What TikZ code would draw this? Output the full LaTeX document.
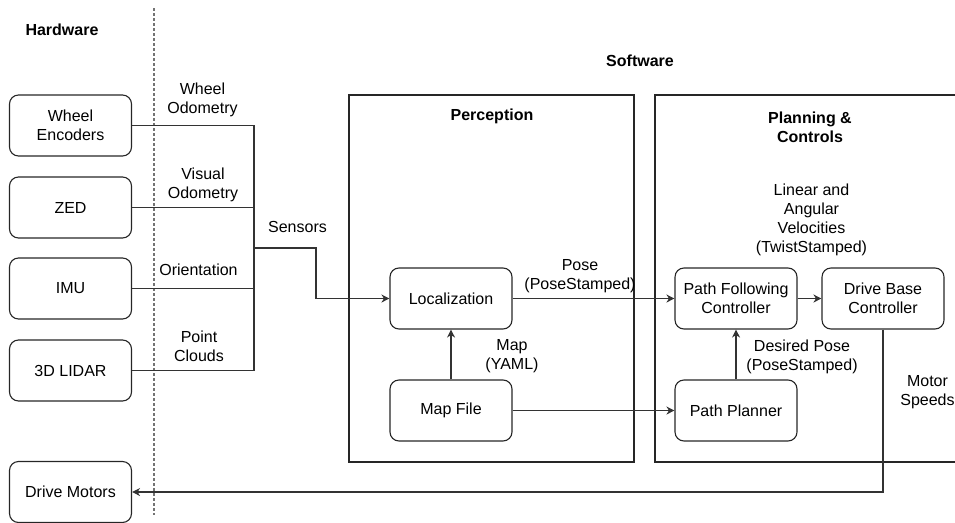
\documentclass[tikz,border=0pt]{standalone}
\usepackage{fontspec}
\setmainfont{Liberation Sans}
\usetikzlibrary{arrows.meta}
\begin{document}
\begin{tikzpicture}[x=1pt,y=-1pt,
  every node/.style={font=\fontsize{16}{19}\selectfont, inner sep=0pt, align=center},
  box/.style={draw=black!85, line width=1.1pt, rounded corners=9pt, minimum width=122pt, minimum height=61pt},
  container/.style={draw=black!85, line width=1.1pt},
  lbl/.style={},
  title/.style={font=\fontsize{16}{19}\selectfont\bfseries},
  conn/.style={draw=black!80, line width=1.1pt},
  arr/.style={draw=black!80, line width=1.1pt, -{Stealth[length=8pt,width=8pt,inset=2.5pt]}}]
\useasboundingbox (0,0) rectangle (955,522);
\clip (0,0) rectangle (955,522);
% divider
\coordinate (dtop) at (154,8);
\coordinate (dbot) at (154,515);
\draw[gray!90!black, line width=1.1pt, dash pattern=on 3pt off 2pt] (dtop) -- (dbot);
% titles
\node[title] (hw) at (62,30) {Hardware};
\node[title] (sw) at (640,61) {Software};
% containers
\node[container, minimum width=285pt, minimum height=367pt] (perc) at (491.5,278.5) {};
\node[container, minimum width=310pt, minimum height=367pt] (plan) at (810,278.5) {};
\node[title] (perct) at (492,116) {Perception};
\node[title] (plant) at (810,127) {Planning \&\\Controls};
% hardware boxes
\node[box] (we) at (70.5,125.5) {Wheel\\Encoders};
\node[box] (zed) at (70.5,207.5) {ZED};
\node[box] (imu) at (70.5,288.5) {IMU};
\node[box] (lidar) at (70.5,370.5) {3D LIDAR};
\node[box] (dm) at (70.5,492) {Drive Motors};
% software boxes
\node[box] (loc) at (451,298.5) {Localization};
\node[box] (map) at (451,410.5) {Map File};
\node[box] (pf) at (736,298.5) {Path Following\\Controller};
\node[box] (db) at (883,298.5) {Drive Base\\Controller};
\node[box] (pp) at (736,410.5) {Path Planner};
% sensor bus
\coordinate (bus) at (254,248);
\coordinate (s1) at (316,248);
\draw[conn] (we.east) -| (bus);
\draw[conn] (lidar.east) -| (bus);
\draw[conn] (zed.east) -- (zed.east -| bus);
\draw[conn] (imu.east) -- (imu.east -| bus);
\draw[arr] (bus) -- (s1) |- (loc.west);
% software connectors
\draw[arr] (map.north) -- (loc.south);
\draw[arr] (loc.east) -- (pf.west);
\draw[arr] (map.east) -- (pp.west);
\draw[arr] (pp.north) -- (pf.south);
\draw[arr] (pf.east) -- (db.west);
\coordinate (ms) at (883,492);
\draw[arr] (db.south) -- (ms) -- (dm.east);
% labels
\node[lbl] (l1) at (202.5,99.5) {Wheel\\Odometry};
\node[lbl] (l2) at (203,184.5) {Visual\\Odometry};
\node[lbl] (l3) at (198.5,270) {Orientation};
\node[lbl] (l4) at (199,346.5) {Point\\Clouds};
\node[lbl] (l5) at (297.5,227) {Sensors};
\node[lbl] (l6) at (580,276.5) {Pose\\(PoseStamped)};
\node[lbl] (l7) at (512,356) {Map\\(YAML)};
\node[lbl] (l8) at (802,356.5) {Desired Pose\\(PoseStamped)};
\node[lbl] (l9) at (811.5,219.5) {Linear and\\Angular\\Velocities\\(TwistStamped)};
\node[lbl] (l10) at (927.5,392.5) {Motor\\Speeds};
\end{tikzpicture}
\end{document}
